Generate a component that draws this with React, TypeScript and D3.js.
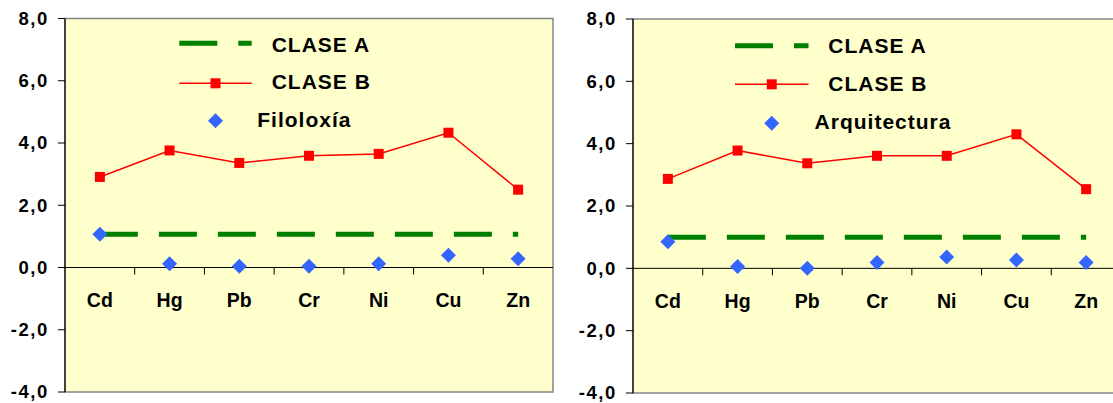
import React from 'react';
import * as d3 from 'd3';

const categories = ['Cd', 'Hg', 'Pb', 'Cr', 'Ni', 'Cu', 'Zn'];
const yTicks = [8, 6, 4, 2, 0, -2, -4];
const legendA = 'CLASE A';
const legendB = 'CLASE B';

const claseAFiloloxia = [1.07, 1.07, 1.07, 1.07, 1.07, 1.07, 1.07];
const claseBFiloloxia = [2.91, 3.76, 3.36, 3.59, 3.65, 4.33, 2.5];
const filoloxia = [1.07, 0.12, 0.04, 0.04, 0.12, 0.39, 0.28];

const claseAArquitectura = [1.0, 1.0, 1.0, 1.0, 1.0, 1.0, 1.0];
const claseBArquitectura = [2.87, 3.78, 3.37, 3.61, 3.61, 4.3, 2.54];
const arquitectura = [0.85, 0.06, 0.0, 0.19, 0.36, 0.27, 0.19];

const FONT = '"Liberation Sans", Arial, Helvetica, sans-serif';
const fmt = (v: number) => d3.format('.1f')(v).replace('.', ',').replace('−', '-');

type ChartProps = {
  x0: number;
  width: number;
  yTop: number;
  yBottom: number;
  seriesName: string;
  a: number[];
  b: number[];
  s: number[];
  legend: {
    lineX0: number;
    lineX1: number;
    textX: number;
    nameX: number;
    keyY: [number, number, number];
    baseY: [number, number, number];
  };
};

function Chart({ x0, width, yTop, yBottom, seriesName, a, b, s, legend }: ChartProps) {
  const x = d3.scaleBand<string>().domain(categories).range([x0, x0 + width]).padding(0);
  const y = d3.scaleLinear().domain([-4, 8]).range([yBottom, yTop]);
  const cx = (c: string) => (x(c) as number) + x.bandwidth() / 2;
  const y0 = y(0);
  const line = d3
    .line<number>()
    .x((_, i) => cx(categories[i]))
    .y((v) => y(v));
  const diamond = 'M0,-7.5L7.5,0L0,7.5L-7.5,0Z';
  const green = '#008000';
  const red = '#FF0000';
  const blue = '#3366FF';
  const lx = (legend.lineX0 + legend.lineX1) / 2;
  return (
    <g>
      <rect x={x0} y={yTop} width={width} height={yBottom - yTop} fill="#FFFFCC" stroke="#858585" strokeWidth={1.5} />
      <line x1={x0} x2={x0 + width} y1={y0} y2={y0} stroke="#000" strokeWidth={1} />
      {categories.slice(1).map((c) => (
        <line key={c} x1={x(c) as number} x2={x(c) as number} y1={y0} y2={y0 + 7} stroke="#000" strokeWidth={1} />
      ))}
      <line x1={x0} x2={x0} y1={yTop} y2={yBottom} stroke="#000" strokeWidth={1.2} />
      {yTicks.map((t) => (
        <g key={t}>
          <line x1={x0 - 7} x2={x0} y1={y(t)} y2={y(t)} stroke="#000" strokeWidth={1} />
          <text
            x={x0 - 16}
            y={y(t)}
            dy="0.35em"
            textAnchor="end"
            fontFamily={FONT}
            fontWeight="bold"
            fontSize={18.5}
            letterSpacing={1.6}
            fill="#000"
          >
            {fmt(t)}
          </text>
        </g>
      ))}
      {categories.map((c) => (
        <text
          key={c}
          x={cx(c)}
          y={y0 + 39.8}
          textAnchor="middle"
          fontFamily={FONT}
          fontWeight="bold"
          fontSize={19.5}
          fill="#000"
        >
          {c}
        </text>
      ))}
      <path d={line(a) || ''} fill="none" stroke={green} strokeWidth={5} strokeDasharray="38 21" />
      <path d={line(b) || ''} fill="none" stroke={red} strokeWidth={1.5} />
      {b.map((v, i) => (
        <rect key={i} x={cx(categories[i]) - 5} y={y(v) - 5} width={10} height={10} fill={red} />
      ))}
      {s.map((v, i) => (
        <path key={i} d={diamond} transform={`translate(${cx(categories[i])},${y(v)})`} fill={blue} />
      ))}
      <line
        x1={legend.lineX0}
        x2={legend.lineX1}
        y1={legend.keyY[0]}
        y2={legend.keyY[0]}
        stroke={green}
        strokeWidth={5}
        strokeDasharray="38 21"
      />
      <line x1={legend.lineX0} x2={legend.lineX1} y1={legend.keyY[1]} y2={legend.keyY[1]} stroke={red} strokeWidth={1.5} />
      <rect x={lx - 5} y={legend.keyY[1] - 5} width={10} height={10} fill={red} />
      <path d={diamond} transform={`translate(${lx},${legend.keyY[2]})`} fill={blue} />
      {[legendA, legendB, seriesName].map((t, i) => (
        <text
          key={t}
          x={i < 2 ? legend.textX : legend.nameX}
          y={legend.baseY[i]}
          fontFamily={FONT}
          fontWeight="bold"
          fontSize={21}
          letterSpacing={1.0}
          fill="#000"
        >
          {t}
        </text>
      ))}
    </g>
  );
}

export default function App() {
  return (
    <svg
      width={1113}
      height={403}
      style={{ position: 'absolute', left: 0, top: 0, background: '#fff' }}
      xmlns="http://www.w3.org/2000/svg"
    >
      <rect x={0} y={0} width={1113} height={403} fill="#fff" />
      <Chart
        x0={65}
        width={488}
        yTop={18.5}
        yBottom={392}
        seriesName="Filoloxía"
        a={claseAFiloloxia}
        b={claseBFiloloxia}
        s={filoloxia}
        legend={{
          lineX0: 179.3,
          lineX1: 251.7,
          textX: 271.7,
          nameX: 257.3,
          keyY: [43.3, 83.3, 120.7],
          baseY: [51.5, 89, 127.3],
        }}
      />
      <Chart
        x0={633}
        width={488}
        yTop={19}
        yBottom={393}
        seriesName="Arquitectura"
        a={claseAArquitectura}
        b={claseBArquitectura}
        s={arquitectura}
        legend={{
          lineX0: 735,
          lineX1: 808.5,
          textX: 828.3,
          nameX: 814.6,
          keyY: [45.7, 84.3, 123.3],
          baseY: [53, 90.5, 129],
        }}
      />
    </svg>
  );
}
